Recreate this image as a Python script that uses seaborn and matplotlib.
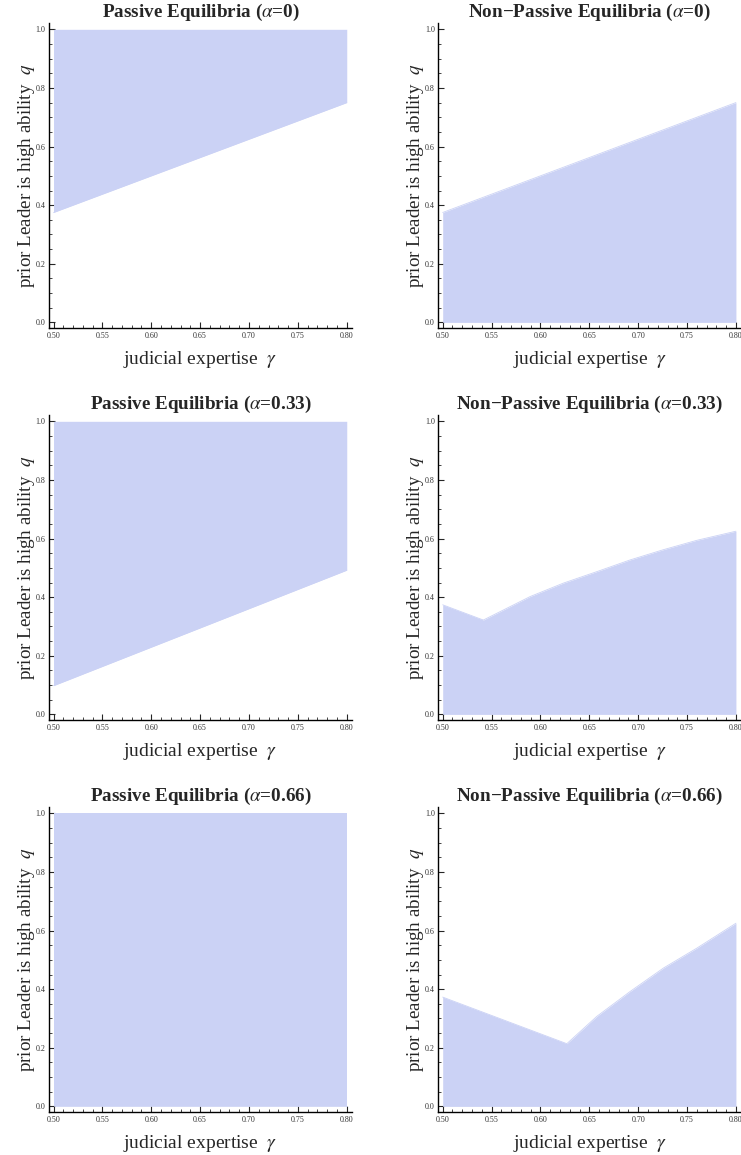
import numpy as np
import pandas as pd
import matplotlib
matplotlib.use("Agg")
import matplotlib.pyplot as plt
import seaborn as sns
from matplotlib.ticker import MultipleLocator, FormatStrFormatter

# ---- data ----
alphas = ["0", "0.33", "0.66"]

# Passive equilibria: region between lower boundary and q = 1
passive_gamma = [0.50, 0.80]
passive_lower_a0 = [0.375, 0.750]
passive_lower_a033 = [0.098, 0.492]
passive_lower_a066 = [0.0, 0.0]

# Non-passive equilibria: region between q = 0 and upper boundary
nonpassive_gamma_a0 = [0.50, 0.80]
nonpassive_upper_a0 = [0.375, 0.750]
nonpassive_gamma_a033 = [0.50, 0.5416, 0.5894, 0.6235, 0.6576, 0.6917, 0.7258, 0.760, 0.80]
nonpassive_upper_a033 = [0.374, 0.322, 0.402, 0.448, 0.487, 0.527, 0.562, 0.594, 0.625]
nonpassive_gamma_a066 = [0.50, 0.627, 0.6576, 0.6917, 0.7258, 0.760, 0.80]
nonpassive_upper_a066 = [0.373, 0.214, 0.307, 0.392, 0.472, 0.540, 0.625]

x_ticks = [0.50, 0.55, 0.60, 0.65, 0.70, 0.75, 0.80]
y_ticks = [0.0, 0.2, 0.4, 0.6, 0.8, 1.0]

x_label = r"judicial expertise  $\gamma$"
y_label = r"prior Leader is high ability  $q$"

FILL = "#cbd2f5"

sns.set_style("ticks")
plt.rcParams["font.family"] = ["Liberation Serif", "DejaVu Serif"]
plt.rcParams["mathtext.fontset"] = "stix"

fig = plt.figure(figsize=(7.41, 11.55), dpi=100)

W = 0.4089
H = 0.2639
lefts = [0.0663, 0.5915]
bottoms = [0.7158, 0.3764, 0.0370]

passive_sets = [
    (passive_gamma, passive_lower_a0),
    (passive_gamma, passive_lower_a033),
    (passive_gamma, passive_lower_a066),
]
nonpassive_sets = [
    (nonpassive_gamma_a0, nonpassive_upper_a0),
    (nonpassive_gamma_a033, nonpassive_upper_a033),
    (nonpassive_gamma_a066, nonpassive_upper_a066),
]


def style_axis(ax, title):
    ax.set_xlim(0.4955, 0.8055)
    ax.set_ylim(-0.02, 1.02)
    sns.despine(ax=ax)
    for s in ("left", "bottom"):
        ax.spines[s].set_linewidth(1.0)
        ax.spines[s].set_color("black")
    ax.xaxis.set_major_locator(plt.FixedLocator(x_ticks))
    ax.yaxis.set_major_locator(plt.FixedLocator(y_ticks))
    ax.xaxis.set_minor_locator(MultipleLocator(0.01))
    ax.yaxis.set_minor_locator(MultipleLocator(0.05))
    ax.xaxis.set_major_formatter(FormatStrFormatter("%.2f"))
    ax.yaxis.set_major_formatter(FormatStrFormatter("%.1f"))
    ax.tick_params(which="major", direction="in", length=4, width=0.8,
                   labelsize=5.8, labelcolor="#333333", pad=2.5)
    ax.tick_params(which="minor", direction="in", length=2.3, width=0.6)
    ax.set_xlabel(x_label, fontsize=14, labelpad=6.5)
    ax.set_ylabel(y_label, fontsize=13.7, labelpad=-1)
    ax.set_title(title, fontsize=13.8, fontweight="bold", pad=4)
    ax.grid(False)


for i, a in enumerate(alphas):
    # Passive
    ax = fig.add_axes([lefts[0], bottoms[i], W, H])
    g, lo = passive_sets[i]
    df = pd.DataFrame({"gamma": g, "q": lo})
    ax.fill_between(df["gamma"], df["q"], 1.0, color=FILL, lw=0)
    sns.lineplot(data=df, x="gamma", y="q", ax=ax, color=FILL, lw=0.6,
                 estimator=None, sort=False)
    style_axis(ax, r"Passive Equilibria ($\alpha$=" + a + ")")

    # Non-passive
    ax = fig.add_axes([lefts[1], bottoms[i], W, H])
    g, up = nonpassive_sets[i]
    df = pd.DataFrame({"gamma": g, "q": up})
    ax.fill_between(df["gamma"], 0.0, df["q"], color=FILL, lw=0)
    sns.lineplot(data=df, x="gamma", y="q", ax=ax, color=FILL, lw=0.6,
                 estimator=None, sort=False)
    style_axis(ax, "Non\u2212Passive Equilibria ($\\alpha$=" + a + ")")

fig.savefig("out.png", dpi=100)
